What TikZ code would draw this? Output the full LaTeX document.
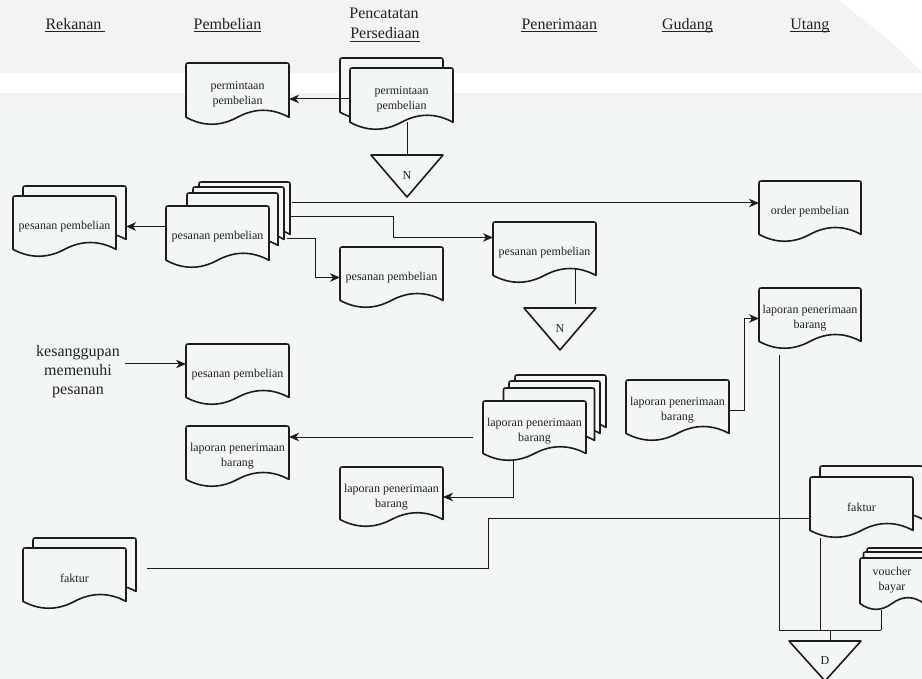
\documentclass[tikz,border=0pt]{standalone}
\usepackage{fontspec}
\setmainfont{Liberation Serif}
\usetikzlibrary{arrows.meta,calc}

\definecolor{bgmain}{HTML}{F2F7F4}
\definecolor{bgtop}{HTML}{F3F3F3}
\definecolor{ink}{HTML}{1C1C1C}
\definecolor{txt}{HTML}{222222}

\tikzset{
  docline/.style={draw=ink, line width=1.6pt, fill=bgmain, line join=round},
  triline/.style={draw=ink, line width=1.6pt, line join=round},
  doctext/.style={inner sep=0pt, outer sep=0pt, align=center, text=txt,
    font=\fontsize{12pt}{15pt}\selectfont},
  head/.style={anchor=base, inner sep=0pt, text=txt,
    font=\fontsize{16pt}{20pt}\selectfont},
  uline/.style={draw=txt, line width=0.8pt},
  conn/.style={draw=ink, line width=1pt},
  arr/.style={conn, -{Stealth[length=10pt,width=8.5pt,inset=3pt]}},
  mergebox/.style={inner sep=0pt, outer sep=0pt, minimum width=72pt,
    minimum height=#1, text=txt, font=\fontsize{12pt}{14pt}\selectfont},
}

% one sheet of a document symbol: left, top, width, height
\newcommand\pageoutline[4]{%
  \path[docline] (#1,#2+0.875*#4) -- (#1,#2+4) .. controls (#1,#2) .. (#1+4,#2)
    -- (#1+#3-4,#2) .. controls (#1+#3,#2) .. (#1+#3,#2+4)
    -- (#1+#3,#2+0.875*#4)
    .. controls (#1+5*#3/6,#2+0.725*#4) and (#1+2*#3/3,#2+0.725*#4) .. (#1+#3/2,#2+0.875*#4)
    .. controls (#1+#3/3,#2+1.025*#4) and (#1+#3/6,#2+1.025*#4) .. (#1,#2+0.875*#4) -- cycle;}

% document symbol with its named text node: [opts] name, left, top, width, height, text
\newcommand\docnode[7][]{%
  \pageoutline{#3}{#4}{#5}{#6}
  \node[doctext, minimum width=#5pt, minimum height=#6pt, #1] (#2) at (#3+#5/2,#4+#6/2) {#7};}

% off-page / archive triangle: name, centre x, centre y, height, label
\newcommand\mergenode[5]{%
  \node[mergebox=#4pt] (#1) at (#2,#3) {#5};
  \path[triline] (#1.north west) -- (#1.north east) -- (#1.south) -- cycle;}

\begin{document}
\begin{tikzpicture}[x=1pt,y=-1pt]
\useasboundingbox (0,0) rectangle (922,679);
\fill[bgmain] (0,0) rectangle (922,679);
\fill[bgtop] (0,0) rectangle (922,108);
\fill[white] (0,73) rectangle (922,93);
\fill[white] (838,0) -- (922,0) -- (922,72) .. controls (890,40) .. (838,0);

% column headings
\node[head] (hrek) at (73.5,29.5) {Rekanan};
\node[head] (hpem) at (227.5,29.5) {Pembelian};
\node[head] (hpc1) at (384,18.5) {Pencatatan};
\node[head] (hpc2) at (385,39) {Persediaan};
\node[head] (hpen) at (559.3,29.5) {Penerimaan};
\node[head] (hgud) at (687.5,29.5) {Gudang};
\node[head] (hutg) at (809.8,29.5) {Utang};
\draw[uline] ([yshift=-2pt]hrek.base west) -- ([xshift=3.5pt,yshift=-2pt]hrek.base east);
\foreach \h in {hpem,hpc2,hpen,hgud,hutg}
  \draw[uline] ([yshift=-2pt]\h.base west) -- ([yshift=-2pt]\h.base east);

% purchase request
\docnode{pa}{186}{63}{103}{62}{permintaan\\pembelian}
\pageoutline{340}{58}{103}{62}
\docnode{pb}{350}{68}{103}{62}{permintaan\\pembelian}
\mergenode{n1}{407}{176}{42}{N}

% purchase order copies
\pageoutline{23}{186}{103}{61}
\docnode{rk}{13}{196}{103}{61}{pesanan pembelian}
\docnode{pp4}{199}{182}{91}{60}{}
\docnode{pp3}{193}{187}{91}{60}{}
\docnode{pp2}{187}{193}{91}{60}{}
\docnode{pp1}{166}{206}{103}{62}{pesanan pembelian}
\docnode{pc}{340}{247}{103}{61}{pesanan pembelian}
\docnode{pe}{493}{222}{103}{61}{pesanan pembelian}
\mergenode{n2}{560}{329}{42}{N}
\docnode{op}{759}{181}{102}{61}{order pembelian}

% supplier confirmation
\node[inner sep=0pt, align=center, text=txt, font=\fontsize{16pt}{19pt}\selectfont]
  (ks) at (78,372) {kesanggupan\\memenuhi\\pesanan};
\docnode{pl}{186}{344}{103}{61}{pesanan pembelian}

% receiving report
\docnode{lu}{759}{288}{102}{61}{laporan penerimaan\\barang}
\docnode{lg}{626}{380}{103}{61}{laporan penerimaan\\barang}
\docnode{lf4}{515}{375}{91}{60}{}
\docnode{lf3}{509}{381}{91}{60}{}
\docnode{lf2}{503.5}{388}{91}{60}{}
\docnode{lf}{483}{401}{103}{60}{laporan penerimaan\\barang}
\docnode{lb}{186}{426}{103}{61}{laporan penerimaan\\barang}
\docnode{lc}{340}{467}{103}{60}{laporan penerimaan\\barang}

% invoice and voucher
\pageoutline{33}{538}{103}{61}
\docnode{fr}{23}{548}{103}{61}{faktur}
\pageoutline{820}{466}{103}{61}
\docnode{fu}{810}{477}{103}{61}{faktur}
\pageoutline{867}{548}{64}{52}
\pageoutline{863.5}{552}{64}{52}
\docnode[yshift=4pt]{vb}{860}{558}{64}{52}{voucher\\bayar}
\mergenode{dd}{825}{661}{40}{D}

% flows
\draw[arr] (pb.west) -- (pb.west -| pa.east);
\draw[conn] ($(pb.south)+(5.5,-8)$) -- (n1.north);
\draw[arr] (pp1.west |- rk.east) -- ($(rk.east)+(10,0)$);
\draw[arr] ($(pp4.east)+(2,-9)$) coordinate (c1) -- (c1 -| op.west);
\draw[arr] ($(pp4.east)+(0,5)$) -| ($(pe.west)+(-100,-15)$) -- ($(pe.west)+(0,-15)$);
\draw[arr] ($(pp3.east)+(3,22)$) -| ($(pc.west)+(-25,0)$) -- (pc.west);
\draw[conn, shorten >=4pt] ($(pe.south)+(30.5,-14)$) coordinate (c2) -- (c2 |- n2.north);
\draw[arr] ($(ks.east)+(5,-8)$) coordinate (c3) -- (c3 -| pl.west);
\draw[arr] ($(lf.west)+(-10,6)$) coordinate (c4) -- (c4 -| lb.east);
\draw[arr] ($(lf.south)+(-21,0)$) |- (lc.east);
\draw[arr] (lg.east) -- ++(15,0) |- (lu.west);

\coordinate (jn) at ($(dd.north)+(5,-11)$);
\draw[conn] ($(lu.south)+(-31,6)$) coordinate (c5) -- (c5 |- jn);
\draw[conn] ($(fu.south)+(-41.5,0)$) coordinate (c6) -- (c6 |- jn);
\draw[conn] ($(vb.south)+(-11,4)$) coordinate (c7) -- (c7 |- jn);
\draw[conn] (c5 |- jn) -- (c7 |- jn);
\draw[conn] (jn) -- (jn |- dd.north);
\draw[conn] ($(fu.west)+(0,10.5)$) -| ($(fr.east)+(362,-10)$) -- ($(fr.east)+(21,-10)$);
\end{tikzpicture}
\end{document}
